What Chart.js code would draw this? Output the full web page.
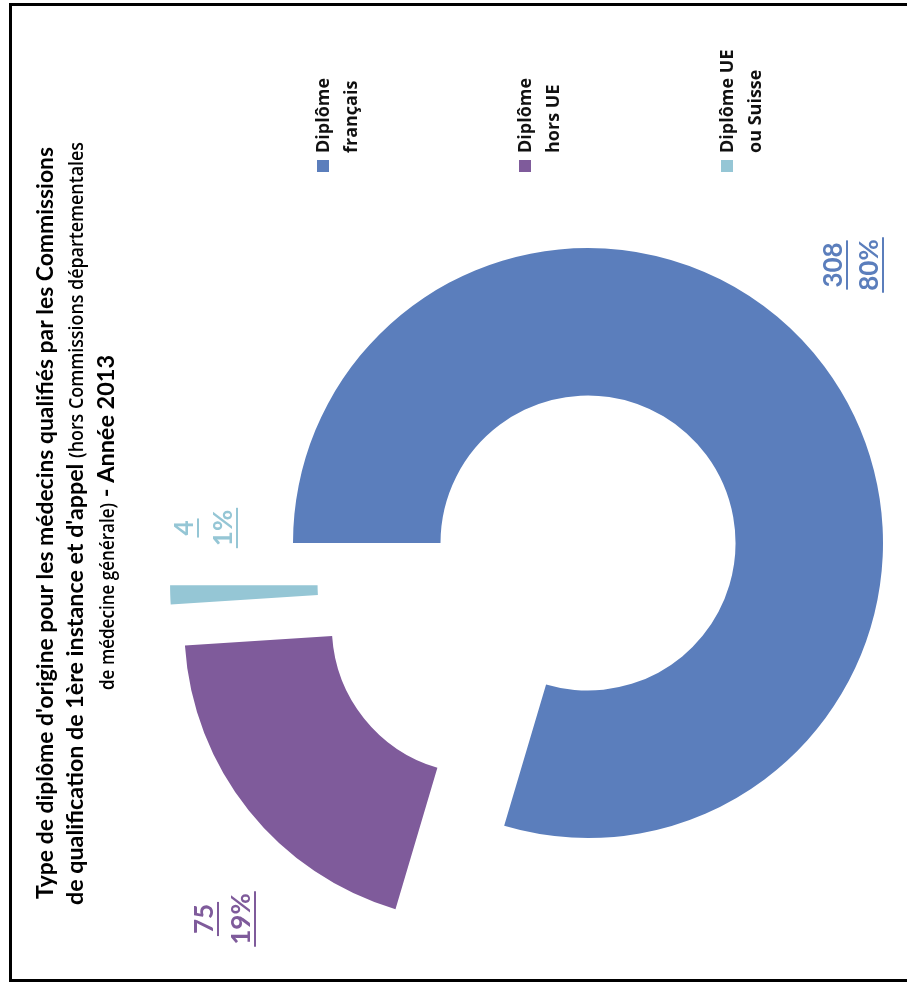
<!DOCTYPE html>
<html>
<head>
<meta charset="utf-8">
<script src="https://cdn.jsdelivr.net/npm/chart.js@4.4.1/dist/chart.umd.min.js"></script>
<style>
    html, body { margin: 0; padding: 0; background: #fff; overflow: hidden; }
    #wrap { position: relative; width: 907px; height: 982px; }
    #frame {
        position: absolute; left: 9px; top: 3px;
        width: 1000px; height: 973px;
        border: 3px solid #000;
    }
    #originChart { position: absolute; left: 0; top: 0; }
</style>
</head>
<body>
<div id="wrap">
    <div id="frame"></div>
    <canvas id="originChart" width="907" height="982"></canvas>
</div>
<script>
// Qualified doctors by origin of diploma, 2013
const categories = ['Diplôme français', 'Diplôme hors UE', 'Diplôme UE ou Suisse'];
const legendLines = [['Diplôme', 'français'], ['Diplôme', 'hors UE'], ['Diplôme UE', 'ou Suisse']];
const counts = [308, 75, 4];
const sliceColors = ['#5B7EBC', '#7F5B9B', '#95C6D5'];

const titleLines = [
    [{ text: "Type de diplôme d'origine pour les médecins qualifiés par les Commissions", bold: true }],
    [{ text: "de qualification de 1ère instance et d'appel ", bold: true },
     { text: '(hors Commissions départementales', bold: false }],
    [{ text: 'de médecine générale)', bold: false },
     { text: ' - Année 2013', bold: true }]
];

const BOLD_FONT = 'Lato, "Open Sans", sans-serif';
const PLAIN_FONT = '"Open Sans", Lato, sans-serif';

// draw text turned a quarter turn, reading bottom to top
function sideText(ctx, str, x, y, font, color, align) {
    ctx.save();
    ctx.translate(x, y);
    ctx.rotate(-Math.PI / 2);
    ctx.font = font;
    ctx.fillStyle = color;
    ctx.textAlign = align;
    ctx.textBaseline = 'alphabetic';
    ctx.fillText(str, 0, 0);
    ctx.restore();
}

// pushes the detached slices away from the centre
const explodePlugin = {
    id: 'explode',
    afterDatasetsUpdate(chart, args, opts) {
        const meta = chart.getDatasetMeta(0);
        meta.data.forEach((arc, i) => {
            const e = opts.slices[i];
            if (!e) return;
            const a = e.angle * Math.PI / 180;
            arc.x += e.dist * Math.cos(a);
            arc.y += e.dist * Math.sin(a);
        });
    }
};

const sideTextPlugin = {
    id: 'sideText',
    afterDraw(chart, args, opts) {
        const ctx = chart.ctx;
        const total = counts.reduce((s, v) => s + v, 0);

        // title: each run squeezed to its own length, read upwards
        opts.title.forEach((line, li) => {
            let y = line.start;
            titleLines[li].forEach((seg, si) => {
                const font = seg.bold
                    ? 'bold ' + opts.titleSize + 'px ' + BOLD_FONT
                    : '600 ' + (opts.titleSize - 2) + 'px ' + PLAIN_FONT;
                ctx.font = font;
                const w = ctx.measureText(seg.text).width;
                const len = line.runs[si];
                ctx.save();
                ctx.translate(line.x, y);
                ctx.rotate(-Math.PI / 2);
                ctx.scale(len / w, 1);
                ctx.font = font;
                ctx.fillStyle = '#000';
                ctx.textAlign = 'left';
                ctx.textBaseline = 'alphabetic';
                ctx.fillText(seg.text, 0, 0);
                ctx.restore();
                y -= len;
            });
        });

        // legend
        const lg = opts.legend;
        legendLines.forEach((lines, i) => {
            const x = lg.x + i * lg.step;
            ctx.fillStyle = sliceColors[i];
            ctx.fillRect(x - lg.box / 2, lg.boxY, lg.box, lg.box);
            lines.forEach((t, j) => {
                sideText(ctx, t, x + lg.box / 2 + j * lg.lineGap, lg.textY,
                    'bold ' + lg.size + 'px ' + PLAIN_FONT, '#111', 'left');
            });
        });

        // value and share labels, underlined
        opts.labels.forEach((p, i) => {
            const pct = Math.round(counts[i] / total * 100) + '%';
            const font = 'bold ' + opts.labelSize + 'px ' + BOLD_FONT;
            [String(counts[i]), pct].forEach((t, j) => {
                const bx = p.x + j * p.gap;
                sideText(ctx, t, bx, p.y, font, sliceColors[i], 'center');
                ctx.font = font;
                const w = ctx.measureText(t).width;
                ctx.fillStyle = sliceColors[i];
                ctx.fillRect(bx + p.ul, p.y - w / 2 - 2, 2, w + 4);
            });
        });
    }
};

new Chart(document.getElementById('originChart'), {
    type: 'doughnut',
    data: {
        labels: categories,
        datasets: [{
            data: counts,
            backgroundColor: sliceColors,
            borderWidth: 0,
            hoverOffset: 0
        }]
    },
    options: {
        responsive: false,
        animation: false,
        rotation: 270,
        cutout: '50%',
        layout: {
            padding: { left: 293, top: 248, right: 24, bottom: 144 }
        },
        events: [],
        plugins: {
            legend: { display: false },
            title: { display: false },
            tooltip: { enabled: false },
            explode: {
                slices: [null, { dist: 137, angle: 142.5 }, { dist: 130, angle: 161 }]
            },
            sideText: {
                titleSize: 22,
                title: [
                    { x: 53, start: 899, runs: [752] },
                    { x: 83, start: 905, runs: [447, 316] },
                    { x: 114, start: 690, runs: [187, 148] }
                ],
                legend: { x: 323, step: 202, box: 12, boxY: 160, textY: 153, lineGap: 28, size: 18 },
                labelSize: 26,
                labels: [
                    { x: 842, y: 265, gap: 36, ul: 4 },
                    { x: 213, y: 919, gap: 37, ul: 4 },
                    { x: 193, y: 528, gap: 39, ul: 4 }
                ]
            }
        }
    },
    plugins: [explodePlugin, sideTextPlugin]
});
</script>
</body>
</html>
